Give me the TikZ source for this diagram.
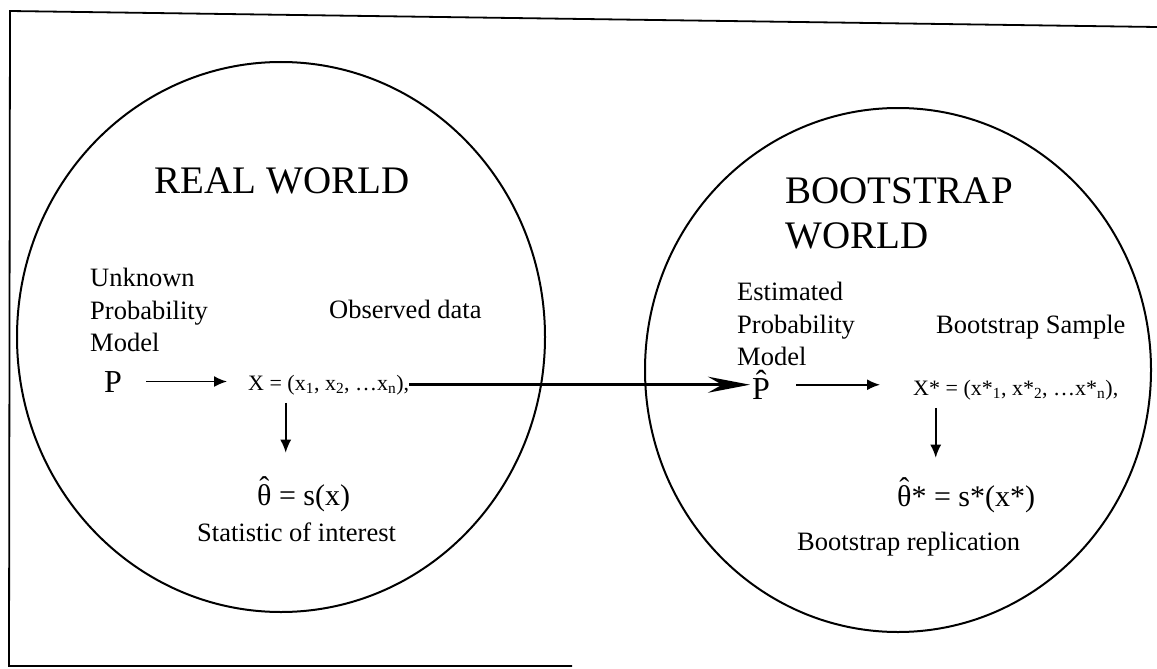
\documentclass[tikz,border=0pt]{standalone}
\usepackage{fontspec}
\setmainfont{Liberation Serif}
\usetikzlibrary{arrows.meta}

% hat put over one letter
\newcommand{\hatch}[1]{{\accent"02C6 #1}}

\tikzset{
  world/.style={line width=2pt},
  ttl/.style={font=\fontsize{39}{45}\selectfont, inner sep=0pt, align=left},
  lbl/.style={font=\fontsize{26.5}{32.5}\selectfont, inner sep=0pt, align=left},
  sym/.style={font=\fontsize{32}{36}\selectfont, inner sep=0pt},
  expr/.style={font=\fontsize{22}{26}\selectfont, inner sep=0pt},
  eqn/.style={font=\fontsize{30}{34}\selectfont, inner sep=0pt},
  arr/.style={-{Latex[length=13pt,width=11pt]}, line width=1.6pt},
  bigarr/.style={-{Stealth[length=42pt,width=16pt,inset=14pt]}, line width=3pt}
}

\begin{document}
\begin{tikzpicture}[x=1pt,y=-1pt]
\useasboundingbox (0,0) rectangle (1157,669);

% Frame
\draw[line width=1.8pt] (1157,27) -- (10,11) -- (9,666) -- (572,666);

% Worlds
\draw[world] (281,337) ellipse[x radius=264, y radius=275];
\draw[world] (898,370) ellipse[x radius=253, y radius=262];

% Real world
\node[ttl, anchor=base] (realttl) at (282,193) {REAL WORLD};
\node[lbl, anchor=north west] (unknown) at (90,268) {Unknown\\Probability\\Model};
\node[lbl, anchor=base west] (observed) at (329,318) {Observed data};
\node[sym, anchor=base west] (P) at (104,392) {P};
\node[expr, anchor=base west] (X) at (248,390)
  {X = (x\textsubscript{1}, x\textsubscript{2}, …x\textsubscript{n}),};
\node[eqn, anchor=base west] (theta) at (257,505) {\hatch{θ} = s(x)};
\node[lbl, anchor=base west] (stat) at (197,541) {Statistic of interest};

% Bootstrap world
\node[ttl, anchor=north west] (bootttl) at (785,177) {BOOTSTRAP\\WORLD};
\node[lbl, anchor=north west] (estim) at (737,282) {Estimated\\Probability\\Model};
\node[lbl, anchor=base west] (sample) at (936,333) {Bootstrap Sample};
\node[sym, anchor=base west] (Phat) at (752,399) {\hatch{P}};
\node[expr, anchor=base west] (Xs) at (913,395)
  {X* = (x*\textsubscript{1}, x*\textsubscript{2}, …x*\textsubscript{n}),};
\node[eqn, anchor=base west] (thetas) at (897,506) {\hatch{θ}* = s*(x*)};
\node[lbl, anchor=base west] (repl) at (797,550) {Bootstrap replication};

% Arrows
\draw[arr, shorten <=24pt, shorten >=21pt] (P) -- (P -| X.west);
\draw[arr, shorten <=8pt, shorten >=24pt]
  ([xshift=-43pt]X.south) -- ([xshift=-43pt]X.south |- theta.north);
\draw[bigarr, shorten >=2pt] (X.east) -- (X.east -| Phat.west);
\draw[arr, shorten <=26pt, shorten >=33pt] (Phat) -- (Phat -| Xs.west);
\draw[arr, shorten <=8pt, shorten >=20pt]
  ([xshift=-80pt]Xs.south) -- ([xshift=-80pt]Xs.south |- thetas.north);

\end{tikzpicture}
\end{document}
